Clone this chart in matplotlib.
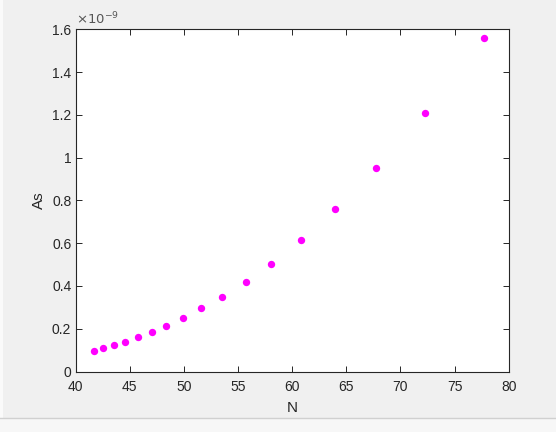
import matplotlib.pyplot as plt
from matplotlib.ticker import FuncFormatter, MultipleLocator
from matplotlib.lines import Line2D
import numpy as np

# values (As in units of 1e-9)
N = [41.74, 42.57, 43.58, 44.60, 45.80, 47.09, 48.38, 49.95, 51.62,
     53.55, 55.72, 58.05, 60.85, 63.99, 67.78, 72.30, 77.75]
As_e9 = [0.094, 0.108, 0.122, 0.137, 0.160, 0.183, 0.211, 0.249, 0.295,
         0.347, 0.417, 0.501, 0.613, 0.758, 0.950, 1.207, 1.558]
As = np.array(As_e9) * 1e-9

x_ticks = [40, 45, 50, 55, 60, 65, 70, 75, 80]
text_col = '#262626'

plt.rcParams['font.family'] = ['Liberation Sans', 'DejaVu Sans']

fig = plt.figure(figsize=(5.56, 4.32), dpi=100, facecolor='#f0f0f0')
ax = fig.add_axes([0.1358, 0.140, 0.7791, 0.792])
ax.set_facecolor('white')

ax.plot(N, As, linestyle='none', marker='o', markersize=5.3,
        color='#ff00ff', markeredgewidth=0)

ax.set_xlim(40, 80)
ax.set_ylim(0, 1.6e-9)
ax.set_xticks(x_ticks)
ax.yaxis.set_major_locator(MultipleLocator(0.2e-9))
ax.yaxis.set_major_formatter(FuncFormatter(lambda v, p: f'{v / 1e-9:g}'))

ax.tick_params(direction='in', length=4, width=0.7, top=True, right=True,
               labelsize=10, colors=text_col, pad=3)
ax.tick_params(axis='x', pad=6)
for s in ax.spines.values():
    s.set_linewidth(0.8)
    s.set_color('#262626')

ax.set_xlabel('N', fontsize=11, color=text_col, labelpad=5)
ax.set_ylabel('As', fontsize=11, color=text_col, labelpad=4)
ax.text(0.0, 1.005, r'$\times10^{-9}$', transform=ax.transAxes,
        fontsize=9.5, color='#555555', ha='left', va='bottom')

# window chrome: separator near the bottom and a left strip
fig.patches.append(plt.Rectangle((0, 0), 1, 14 / 432, transform=fig.transFigure,
                                 facecolor='#f7f7f7', edgecolor='none'))
fig.lines.append(Line2D([0, 1], [14 / 432, 14 / 432], transform=fig.transFigure,
                        color='#d0d0d0', linewidth=1))
fig.patches.append(plt.Rectangle((0, 14 / 432), 3 / 556, 1, transform=fig.transFigure,
                                 facecolor='#fafafa', edgecolor='none'))

fig.savefig('out.png', dpi=100, facecolor=fig.get_facecolor())
